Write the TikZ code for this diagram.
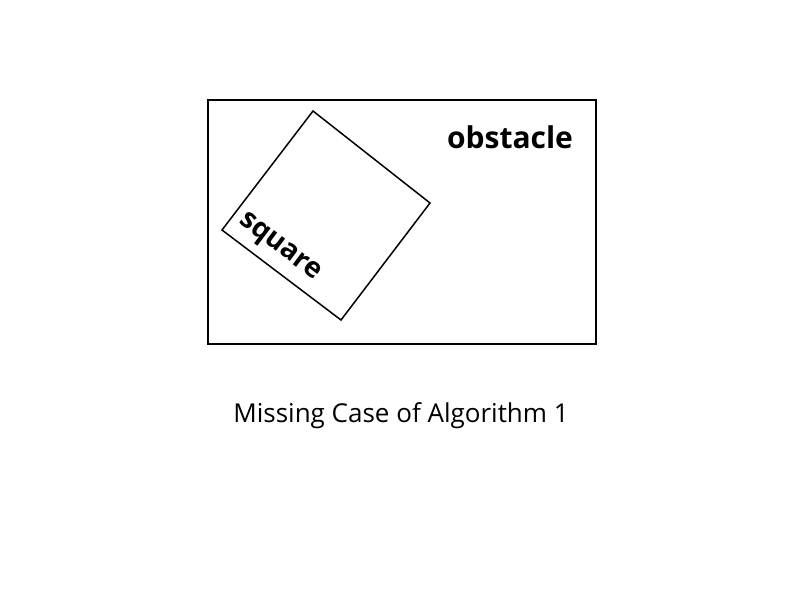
\documentclass[tikz,border=0pt]{standalone}
\usepackage{fontspec}
\setmainfont{Open Sans}
\begin{document}
\begin{tikzpicture}[x=1pt,y=-1pt,
  shape line/.style={draw=black, line width=1.5pt, line join=miter},
  label text/.style={font=\fontsize{30}{33}\selectfont\bfseries, inner sep=0pt},
  square text/.style={font=\fontsize{28}{31}\selectfont\bfseries, inner sep=0pt},
  caption text/.style={font=\fontsize{26}{29}\selectfont, inner sep=0pt}]
\useasboundingbox (0,0) rectangle (810,605);
\fill[white] (0,0) rectangle (810,605);
\node[shape line, minimum width=388pt, minimum height=244pt, inner sep=0pt, anchor=north west] (obstacle) at (207,99) {};
\coordinate (s1) at (313,111);
\coordinate (s2) at (430,203);
\coordinate (s3) at (341,320);
\coordinate (s4) at (222,230);
\draw[shape line] (s1) -- (s2) -- (s3) -- (s4) -- cycle;
\node[label text] (obstaclelabel) at (510,137) {obstacle};
\node[square text, rotate=-37] (squarelabel) at (279,248) {square};
\node[caption text] (caption) at (401,416) {Missing Case of Algorithm 1};
\end{tikzpicture}
\end{document}
